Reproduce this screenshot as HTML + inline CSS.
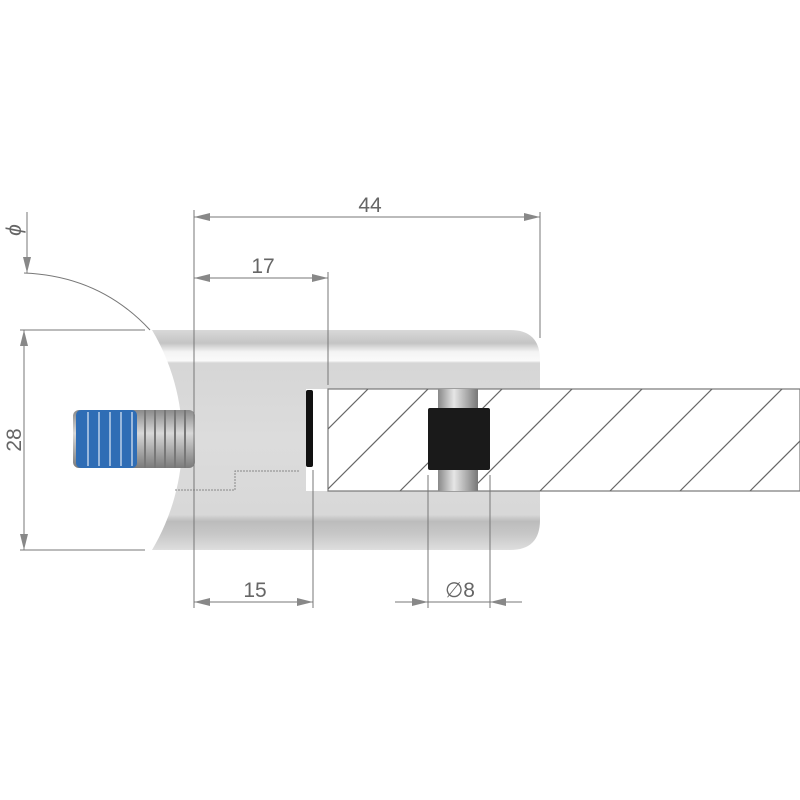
<!DOCTYPE html>
<html><head><meta charset="utf-8"><style>html,body{margin:0;padding:0;background:#fff}svg{display:block}</style></head><body>
<svg width="800" height="800" viewBox="0 0 800 800" xmlns="http://www.w3.org/2000/svg" font-family="Liberation Sans, DejaVu Sans, sans-serif">
<defs>
<linearGradient id="body" x1="0" y1="0" x2="0" y2="1">
<stop offset="0" stop-color="#d9d9d9"/><stop offset="0.06" stop-color="#c4c4c4"/><stop offset="0.1" stop-color="#f4f4f4"/><stop offset="0.14" stop-color="#fafafa"/><stop offset="0.15" stop-color="#d6d6d6"/><stop offset="0.5" stop-color="#dcdcdc"/><stop offset="0.84" stop-color="#d8d8d8"/><stop offset="0.87" stop-color="#bcbcbc"/><stop offset="0.93" stop-color="#c8c8c8"/><stop offset="1" stop-color="#dedede"/>
</linearGradient>
<linearGradient id="bolt" x1="0" y1="0" x2="0" y2="1"><stop offset="0" stop-color="#8a8a8a"/><stop offset="0.4" stop-color="#d8d8d8"/><stop offset="1" stop-color="#7a7a7a"/></linearGradient>
<linearGradient id="pin" x1="0" y1="0" x2="1" y2="0"><stop offset="0" stop-color="#888"/><stop offset="0.4" stop-color="#e6e6e6"/><stop offset="1" stop-color="#777"/></linearGradient>
<clipPath id="gc"><rect x="328" y="389" width="472" height="102"/></clipPath>
</defs>
<path d="M152,330 L510,330 Q540,330 540,360 L540,520 Q540,550 510,550 L152,550 A215,215 0 0 0 152,330 Z" fill="url(#body)"/>
<path d="M175,490 L235,490 L235,471 L300,471" stroke="#888" stroke-width="1" fill="none" stroke-dasharray="2,1"/>
<rect x="73" y="410" width="122" height="58" rx="6" fill="url(#bolt)"/>
<g stroke="#777" stroke-width="2">
<line x1="145" y1="410" x2="145" y2="468"/><line x1="155" y1="410" x2="155" y2="468"/><line x1="165" y1="410" x2="165" y2="468"/><line x1="175" y1="410" x2="175" y2="468"/><line x1="185" y1="410" x2="185" y2="468"/></g>
<rect x="76" y="410" width="61" height="58" rx="5" fill="#2f6db5"/>
<g stroke="#9ab8dc" stroke-width="2">
<line x1="88" y1="412" x2="88" y2="466"/><line x1="99" y1="412" x2="99" y2="466"/><line x1="110" y1="412" x2="110" y2="466"/><line x1="121" y1="412" x2="121" y2="466"/><line x1="132" y1="412" x2="132" y2="466"/></g>
<rect x="306" y="389" width="22" height="102" fill="#fff"/>
<rect x="306" y="390" width="7" height="77" rx="2" fill="#111"/>
<rect x="328" y="389" width="472" height="102" fill="#fff" stroke="#777" stroke-width="1.2"/>
<g clip-path="url(#gc)" stroke="#666" stroke-width="1.2">
<line x1="328" y1="429" x2="368" y2="389"/><line x1="328" y1="489" x2="438" y2="379"/><line x1="400" y1="491" x2="510" y2="381"/><line x1="470" y1="491" x2="580" y2="381"/><line x1="540" y1="491" x2="650" y2="381"/><line x1="610" y1="491" x2="720" y2="381"/><line x1="680" y1="491" x2="790" y2="381"/><line x1="750" y1="491" x2="860" y2="381"/>
</g>
<rect x="438" y="389" width="40" height="102" fill="url(#pin)"/>
<rect x="428" y="408" width="62" height="62" rx="2" fill="#1a1a1a"/>
<g stroke="#777" stroke-width="1" fill="none">
<line x1="194" y1="210" x2="194" y2="608"/>
<line x1="540" y1="212" x2="540" y2="338"/>
<line x1="328" y1="272" x2="328" y2="385"/>
<line x1="313" y1="470" x2="313" y2="608"/>
<line x1="428" y1="475" x2="428" y2="608"/>
<line x1="490" y1="475" x2="490" y2="608"/>
<line x1="194" y1="217" x2="540" y2="217"/>
<line x1="194" y1="278" x2="328" y2="278"/>
<line x1="194" y1="602" x2="313" y2="602"/>
<line x1="395" y1="602" x2="522" y2="602"/>
<line x1="24" y1="330" x2="24" y2="550"/>
<line x1="20" y1="330" x2="145" y2="330"/>
<line x1="20" y1="550" x2="145" y2="550"/>
<line x1="27" y1="212" x2="27" y2="273"/>
<path d="M24,273 Q100,276 150,330"/>
</g>
<g fill="#888">
<path d="M194,217 l16,-4 v8z"/><path d="M540,217 l-16,-4 v8z"/>
<path d="M194,278 l16,-4 v8z"/><path d="M328,278 l-16,-4 v8z"/>
<path d="M194,602 l16,-4 v8z"/><path d="M313,602 l-16,-4 v8z"/>
<path d="M428,602 l-16,-4 v8z"/><path d="M490,602 l16,-4 v8z"/>
<path d="M24,330 l-4,16 h8z"/><path d="M24,550 l-4,-16 h8z"/>
<path d="M27,273 l-4,-16 h8z"/>
</g>
<g fill="#666" font-size="21">
<text x="370" y="212" text-anchor="middle">44</text>
<text x="263" y="273" text-anchor="middle">17</text>
<text x="255" y="597" text-anchor="middle">15</text>
<text x="460" y="597" text-anchor="middle">∅8</text>
<text transform="translate(21,440) rotate(-90)" text-anchor="middle">28</text>
<text transform="translate(21,230) rotate(-90)" text-anchor="middle" font-style="italic">ϕ</text>
</g>
</svg>
</body></html>
